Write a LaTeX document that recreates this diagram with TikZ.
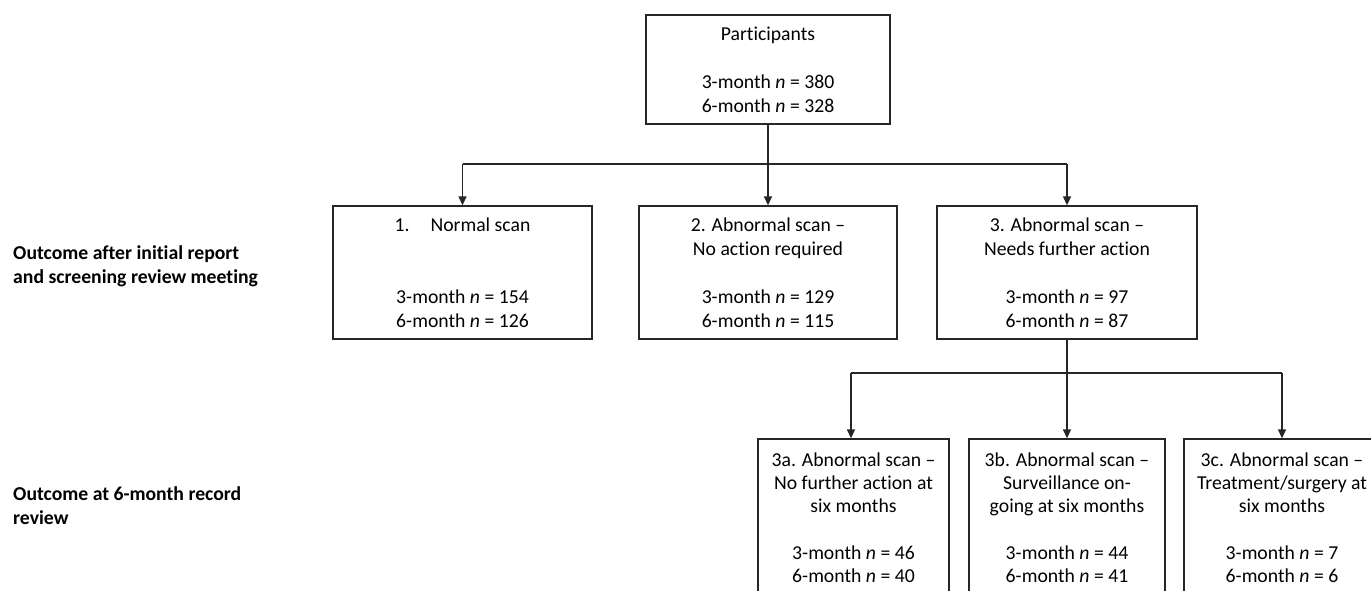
\documentclass[tikz,border=0pt]{standalone}
\usepackage{fontspec}
\setmainfont{Carlito}[RawFeature={-liga}]
\usetikzlibrary{arrows.meta}
\begin{document}
\begin{tikzpicture}[x=1pt,y=-1pt,
  every node/.style={font=\fontsize{19.7}{24}\selectfont},
  box/.style={draw=black!85, line width=1.3pt, inner sep=0pt, align=center, fill=white},
  lowbox/.style={box, font=\fontsize{19.7}{23.2}\selectfont},
  conn/.style={draw=black!85, line width=1.3pt},
  arr/.style={conn, -{Triangle[length=9pt,width=8pt]}},
  side/.style={font=\bfseries\fontsize{19.7}{24}\selectfont, align=left, anchor=west, inner sep=0pt}
]
\path[use as bounding box, clip] (0,0) rectangle (1371,591);

\node[side] (l1) at (13,266) {Outcome after initial report\\and screening review meeting};
\node[side] (l2) at (13,505.5) {Outcome at 6-month record\\review};

\node[box, minimum width=244pt, minimum height=109pt] (p) at (768,69.5)
  {Participants\\[24pt]3-month \textit{n} = 380\\6-month \textit{n} = 328};

\node[box, minimum width=259pt, minimum height=133pt] (b1) at (462.5,272.5)
  {1.\hspace{21pt}Normal scan\\[48pt]3-month \textit{n} = 154\\6-month \textit{n} = 126};
\node[box, minimum width=258pt, minimum height=133pt] (b2) at (768,272.5)
  {2. Abnormal scan --\\No action required\\[24pt]3-month \textit{n} = 129\\6-month \textit{n} = 115};
\node[box, minimum width=260pt, minimum height=133pt] (b3) at (1067,272.5)
  {3. Abnormal scan --\\Needs further action\\[24pt]3-month \textit{n} = 97\\6-month \textit{n} = 87};

\node[lowbox, minimum width=191pt, minimum height=157pt] (b3a) at (853.5,517.5)
  {3a. Abnormal scan --\\No further action at\\six months\\[23.2pt]3-month \textit{n} = 46\\6-month \textit{n} = 40};
\node[lowbox, minimum width=196pt, minimum height=157pt] (b3b) at (1067,517.5)
  {3b. Abnormal scan --\\Surveillance on-\\going at six months\\[23.2pt]3-month \textit{n} = 44\\6-month \textit{n} = 41};
\node[lowbox, minimum width=196pt, minimum height=157pt] (b3c) at (1282,517.5)
  {3c. Abnormal scan --\\Treatment/surgery at\\six months\\[23.2pt]3-month \textit{n} = 7\\6-month \textit{n} = 6};

\coordinate (j1) at (768,164);
\coordinate (j2) at (1067,373);

\draw[arr] (p.south) -- (b2.north);
\draw[conn] (b1.north |- j1) -- (b3.north |- j1);
\draw[arr] (b1.north |- j1) -- (b1.north);
\draw[arr] (b3.north |- j1) -- (b3.north);

\draw[arr] (b3.south) -- (b3b.north);
\draw[conn] ([xshift=-2.5pt]b3a.north |- j2) -- (b3c.north |- j2);
\draw[arr] ([xshift=-2.5pt]b3a.north |- j2) -- ([xshift=-2.5pt]b3a.north);
\draw[arr] (b3c.north |- j2) -- (b3c.north);
\end{tikzpicture}
\end{document}
